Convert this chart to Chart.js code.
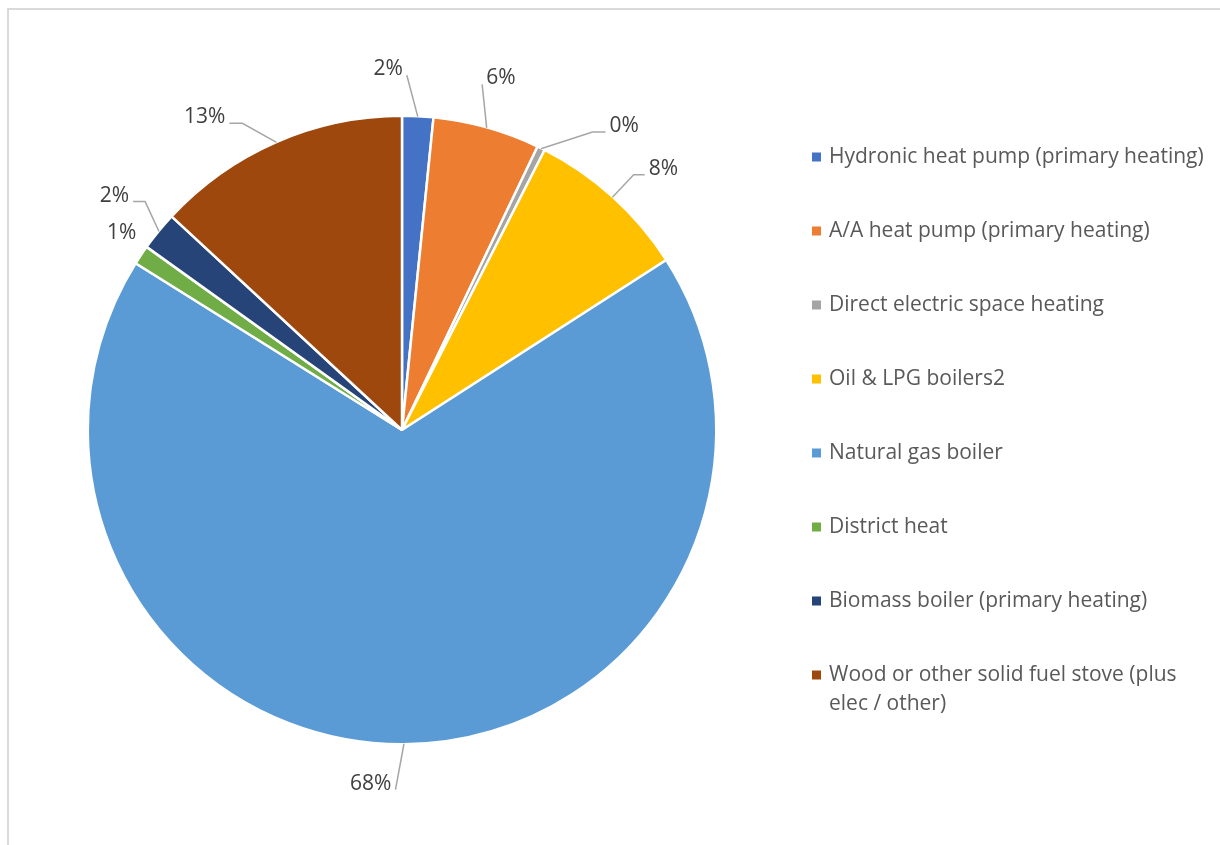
<!DOCTYPE html>
<html>
<head>
<meta charset="utf-8">
<script src="https://cdn.jsdelivr.net/npm/chart.js@4/dist/chart.umd.min.js"></script>
<style>
  html, body { margin: 0; padding: 0; background: #fff; }
  canvas { display: block; }
</style>
</head>
<body>
<canvas id="heating" width="1220" height="845"></canvas>
<script>
// heating system shares, in percent
const categories = [
  "Hydronic heat pump (primary heating)",
  "A/A heat pump (primary heating)",
  "Direct electric space heating",
  "Oil & LPG boilers2",
  "Natural gas boiler",
  "District heat",
  "Biomass boiler (primary heating)",
  "Wood or other solid fuel stove (plus elec / other)"
];
const shares = [1.6, 5.5, 0.4, 8.4, 68.0, 1.0, 2.0, 13.1];
const colours = ["#4472C4", "#ED7D31", "#A5A5A5", "#FFC000", "#5B9BD5", "#70AD47", "#264478", "#9E480E"];

// where each percentage label sits: turn (deg) off the slice middle, distance past the rim,
// length of the flat tail and which side the text hangs on
const labelLayout = [
  { turn: -2.1, ext: 41, tail: 0,  side: -1 },
  { turn: -2.6, ext: 41, tail: 0,  side: 1 },
  { turn: 6.3,  ext: 40, tail: 13, side: 1 },
  { turn: 0.1,  ext: 31, tail: 11, side: 1 },
  { turn: 1.4,  ext: 46, tail: 0,  side: -1 },
  { turn: 2.7,  ext: 17, tail: 0,  side: -1, bare: true },
  { turn: 2.4,  ext: 30, tail: 12, side: -1 },
  { turn: -3.9, ext: 32, tail: 13, side: -1 }
];

const FONT = '21px "Open Sans", sans-serif';

// light grey frame along the top and left edge
const framePlugin = {
  id: 'frame',
  beforeDraw(chart) {
    const ctx = chart.ctx;
    ctx.save();
    ctx.fillStyle = '#d9d9d9';
    ctx.fillRect(7, 8, 1220, 2);
    ctx.fillRect(7, 8, 2, 845);
    ctx.restore();
  }
};

// percentage labels with leader lines
const sliceLabels = {
  id: 'sliceLabels',
  afterDatasetsDraw(chart) {
    const ctx = chart.ctx;
    const meta = chart.getDatasetMeta(0);
    const values = chart.data.datasets[0].data;
    const total = values.reduce((a, b) => a + b, 0);
    ctx.save();
    ctx.font = FONT;
    ctx.textBaseline = 'middle';
    meta.data.forEach((arc, i) => {
      const p = arc.getProps(['x', 'y', 'startAngle', 'endAngle', 'outerRadius'], true);
      const lay = labelLayout[i];
      const mid = (p.startAngle + p.endAngle) / 2;
      const a = mid + lay.turn * Math.PI / 180;
      const r = p.outerRadius - 0.5;
      const sx = p.x + Math.cos(mid) * r, sy = p.y + Math.sin(mid) * r;
      const ex = p.x + Math.cos(a) * (r + lay.ext), ey = p.y + Math.sin(a) * (r + lay.ext);
      const tx = ex + lay.side * lay.tail;
      if (!lay.bare) {
        ctx.strokeStyle = '#a6a6a6';
        ctx.lineWidth = 1.5;
        ctx.beginPath();
        ctx.moveTo(sx, sy);
        ctx.lineTo(ex, ey);
        if (lay.tail) ctx.lineTo(tx, ey);
        ctx.stroke();
      }
      ctx.fillStyle = '#404040';
      ctx.textAlign = lay.side > 0 ? 'left' : 'right';
      const label = Math.round(values[i] / total * 100) + '%';
      if (lay.bare) ctx.fillText(label, tx, ey);
      else ctx.fillText(label, tx + lay.side * 4, ey - 6);
    });
    ctx.restore();
  }
};

// legend on the right, wrapping long names
const sideLegend = {
  id: 'sideLegend',
  afterDraw(chart) {
    const ctx = chart.ctx;
    const x0 = 812, textX = 829, top = 157, step = 74, lineH = 29, maxW = 382;
    ctx.save();
    ctx.font = FONT;
    ctx.textBaseline = 'middle';
    ctx.textAlign = 'left';
    chart.data.labels.forEach((name, i) => {
      const y = top + i * step;
      ctx.fillStyle = colours[i];
      ctx.fillRect(x0, y - 4.5, 9, 9);
      const words = name.split(' ');
      const lines = [];
      let line = '';
      words.forEach(w => {
        const test = line ? line + ' ' + w : w;
        if (ctx.measureText(test).width > maxW && line) {
          lines.push(line);
          line = w;
        } else {
          line = test;
        }
      });
      lines.push(line);
      ctx.fillStyle = '#595959';
      lines.forEach((l, k) => ctx.fillText(l, textX, y + k * lineH));
    });
    ctx.restore();
  }
};

new Chart(document.getElementById('heating'), {
  type: 'pie',
  data: {
    labels: categories,
    datasets: [{
      data: shares,
      backgroundColor: colours,
      borderColor: '#ffffff',
      borderWidth: 2.5
    }]
  },
  options: {
    responsive: false,
    animation: false,
    layout: { padding: { top: 114.5, bottom: 99.5, left: 86.5, right: 502.5 } },
    plugins: {
      legend: { display: false },
      tooltip: { enabled: false }
    }
  },
  plugins: [framePlugin, sliceLabels, sideLegend]
});
</script>
</body>
</html>
